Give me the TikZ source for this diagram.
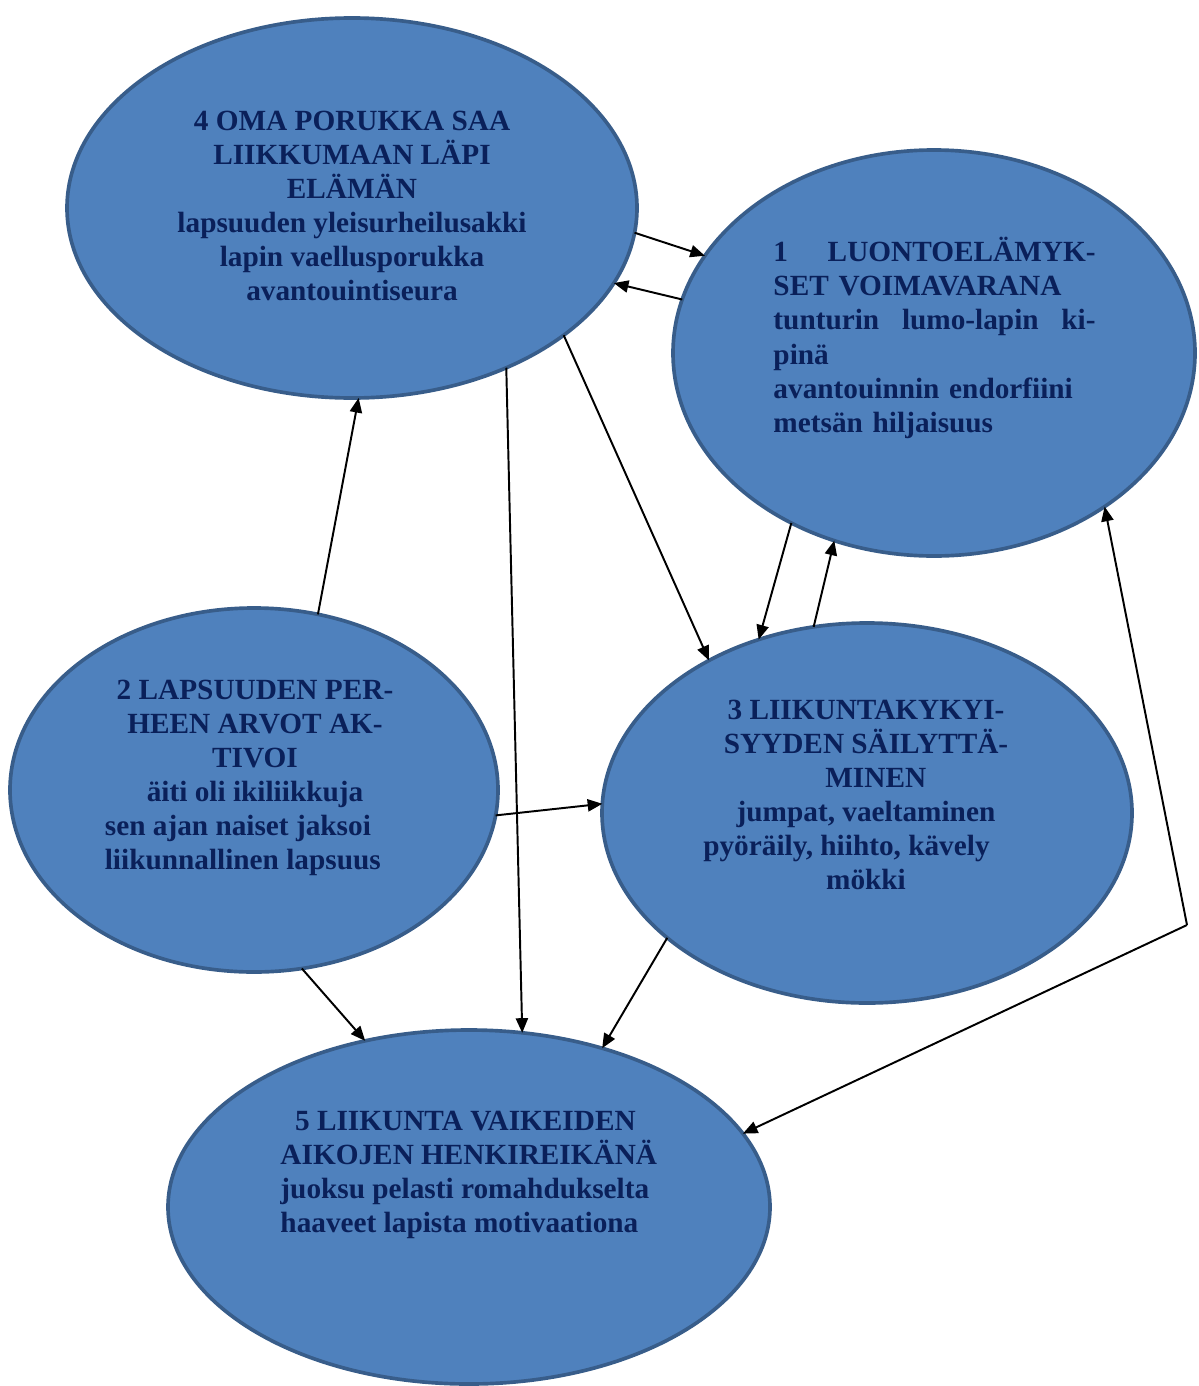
\documentclass[tikz,border=0pt]{standalone}
\usepackage{fontspec}
\setmainfont{Liberation Serif}
\usepackage{tikz}
\usetikzlibrary{shapes.geometric,arrows.meta}
\usepackage{xcolor}

\definecolor{bubblefill}{RGB}{79,129,189}
\definecolor{bubbleedge}{RGB}{56,93,138}
\definecolor{bubbletext}{RGB}{10,32,90}

\tikzset{
  bubble/.style 2 args={ellipse,draw=bubbleedge,fill=bubblefill,line width=1.5pt,
    inner sep=0pt,outer sep=0pt,minimum width={2*#1*0.0144cm},minimum height={2*#2*0.0144cm}},
  bubbletxt/.style={text=bubbletext,inner sep=0pt,font=\fontsize{12}{14}\selectfont\bfseries},
  link/.style={-{Triangle[length=6pt,width=5pt]},line width=0.8pt}
}

\begin{document}
\begin{tikzpicture}[x=0.0144cm,y=-0.0144cm]
  \useasboundingbox (0,0) rectangle (1198,1386);
  % the five themes
  \node[bubble={285}{190}](e4) at (352,208) {};
  \node[bubble={261}{203}](e1) at (934,353) {};
  \node[bubble={244}{182}](e2) at (254,790) {};
  \node[bubble={265}{190}](e3) at (867,813) {};
  \node[bubble={301}{177}](e5) at (469,1207) {};
  \node[bubbletxt,align=center](t4) at (352,206) {4 OMA PORUKKA SAA\\LIIKKUMAAN LÄPI\\ELÄMÄN\\lapsuuden yleisurheilusakki\\lapin vaellusporukka\\avantouintiseura};
  \node[bubbletxt,text width=4.64cm,align=left,anchor=west](t1) at (773,338) {1\hfill LUONTOELÄMYK-\\SET VOIMAVARANA\\tunturin\hfill lumo-lapin\hfill ki-\\pinä\\avantouinnin endorfiini\\metsän hiljaisuus};
  \node[bubbletxt,align=center](t2) at (255,778) {2 LAPSUUDEN PER-\\HEEN ARVOT AK-\\TIVOI\\äiti oli ikiliikkuja\\sen ajan naiset jaksoi\rule{14pt}{0pt}\\liikunnallinen lapsuus\rule{10pt}{0pt}};
  \node[bubbletxt,align=center](t3) at (866,795) {3 LIIKUNTAKYKYI-\\SYYDEN SÄILYTTÄ-\\\hspace*{8pt}MINEN\\jumpat, vaeltaminen\\pyöräily, hiihto, kävely\rule{16pt}{0pt}\\mökki};
  \node[bubbletxt,align=left,anchor=west](t5) at (280,1175) {\hspace*{6pt}5 LIIKUNTA VAIKEIDEN\\AIKOJEN HENKIREIKÄNÄ\\juoksu pelasti romahdukselta\\haaveet lapista motivaationa};
  % links between them
  \draw[link] (e4.-5.8) -- (e1.157.9);
  \draw[link] (e1.168.6) -- (e4.-16.5);
  \draw[link] (e2.70.8) -- (e4.-88.8);
  \draw[link] (e4.-46.4) -- (e5.73.3);
  \draw[link] (e4.-31.3) -- (e3.136.7);
  \draw[link] (e1.-130.5) -- (e3.122.8);
  \draw[link] (e3.106.3) -- (e1.-118);
  \draw[link] (e2.-6.5) -- (e3.178.9);
  \draw[link] (e2.-75.5) -- (e5.122.4);
  \draw[link] (e3.-148.5) -- (e5.50.1);
  \coordinate(bend) at (1187,925);
  \draw[link] (bend) -- (e1.-42.4);
  \draw[link] (bend) -- (e5.15.4);
\end{tikzpicture}
\end{document}
